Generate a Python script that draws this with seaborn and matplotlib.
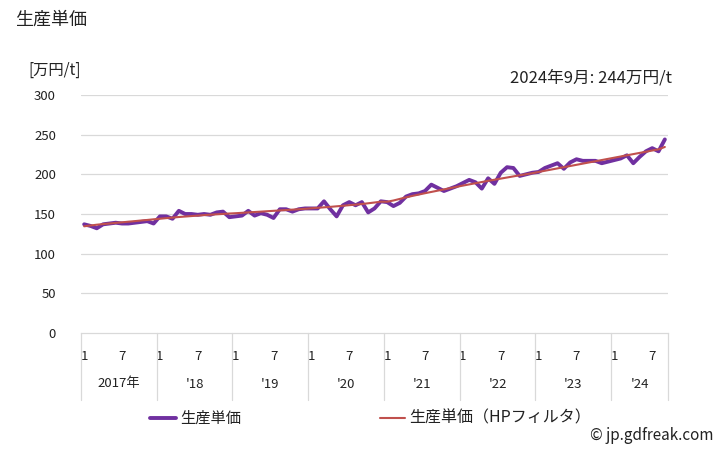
import numpy as np
import pandas as pd
import matplotlib
matplotlib.use("Agg")
import matplotlib.pyplot as plt
import matplotlib.transforms as mtransforms
import seaborn as sns

# ---- data ----
years = [2017, 2018, 2019, 2020, 2021, 2022, 2023, 2024]
year_labels = ["2017年", "'18", "'19", "'20", "'21", "'22", "'23", "'24"]
months_per_year = [12, 12, 12, 12, 12, 12, 12, 9]

price = [
    137, 135, 132, 137, 138, 139, 138, 138, 139, 140, 141, 138,   # 2017
    147, 147, 144, 154, 150, 150, 149, 150, 149, 152, 153, 146,   # 2018
    147, 148, 154, 148, 151, 149, 145, 156, 156, 153, 156, 157,   # 2019
    157, 157, 166, 156, 147, 161, 165, 161, 165, 152, 157, 166,   # 2020
    165, 160, 164, 172, 175, 176, 179, 187, 183, 179, 182, 185,   # 2021
    189, 193, 190, 182, 195, 188, 202, 209, 208, 198, 200, 202,   # 2022
    203, 208, 211, 214, 207, 215, 219, 217, 217, 217, 214, 216,   # 2023
    218, 220, 224, 214, 222, 229, 233, 229, 244,                  # 2024
]
hp_trend = [
    134.5, 135.5, 136.5, 137.3, 138.0, 138.8, 139.5, 140.3, 141.0, 141.8, 142.5, 143.3,
    144.0, 144.8, 145.5, 146.2, 146.8, 147.4, 148.0, 148.6, 149.1, 149.6, 150.1, 150.6,
    151.0, 151.5, 152.0, 152.5, 153.0, 153.5, 154.0, 154.5, 155.0, 155.5, 156.0, 156.5,
    157.2, 157.8, 158.4, 159.0, 159.7, 160.4, 161.1, 161.8, 162.6, 163.5, 164.5, 165.5,
    165.5, 167.0, 169.0, 171.0, 172.8, 174.5, 176.2, 177.8, 179.4, 181.0, 182.6, 184.2,
    185.8, 187.3, 188.8, 190.3, 191.8, 193.2, 194.6, 196.0, 197.4, 198.8, 200.1, 201.4,
    203.0, 204.5, 206.0, 207.5, 209.0, 210.5, 212.0, 213.5, 215.0, 216.5, 218.0, 219.5,
    221.0, 222.5, 224.0, 225.5, 227.0, 228.5, 230.0, 231.5, 234.5,
]
y_ticks = [0, 50, 100, 150, 200, 250, 300]

# ---- build table ----
month_num = []
for n in months_per_year:
    month_num += list(range(1, n + 1))
idx = list(range(len(price)))
df = pd.DataFrame({"idx": idx, "month": month_num, "price": price, "hp": hp_trend})

sns.set_theme(style="white")
plt.rcParams["font.family"] = ["Noto Sans CJK JP", "DejaVu Sans"]

fig = plt.figure(figsize=(7.28, 4.5), dpi=100)
ax = fig.add_axes([81 / 728, 1 - 333 / 450, (668 - 81) / 728, (333 - 95) / 450])

purple = "#7030A0"
red = "#C0504D"
grid_c = "#D9D9D9"

sns.lineplot(data=df, x="idx", y="price", ax=ax, color=purple, linewidth=2.8, zorder=3)
sns.lineplot(data=df, x="idx", y="hp", ax=ax, color=red, linewidth=1.5, zorder=4)

n = len(price)
ax.set_xlim(-0.5, n - 0.5)
ax.set_ylim(0, 300)
ax.set_yticks(y_ticks)
ax.set_yticklabels([str(v) for v in y_ticks], fontsize=9.5, color="#222222")
ax.tick_params(axis="y", length=0, pad=18)
for v in y_ticks[1:]:
    ax.axhline(v, color=grid_c, linewidth=0.9, zorder=1)
for s in ["left", "right", "top"]:
    ax.spines[s].set_visible(False)
ax.spines["bottom"].set_color(grid_c)
ax.spines["bottom"].set_linewidth(0.9)
ax.set_xlabel("")
ax.set_ylabel("")

# month ticks (1 and 7)
tick_pos = [i for i, m in zip(idx, month_num) if m in (1, 7)]
tick_lab = [str(m) for m in month_num if m in (1, 7)]
ax.set_xticks(tick_pos)
ax.set_xticklabels(tick_lab, fontsize=9.5, color="#222222")
ax.tick_params(axis="x", length=0, pad=12)

# year separators & labels
trans = mtransforms.blended_transform_factory(ax.transData, ax.transAxes)
bottom_frac = -67 / 238
start = 0
bounds = [-0.5]
for yl, nm in zip(year_labels, months_per_year):
    center = start + (nm - 1) / 2
    ax.text(center, -51 / 238, yl, transform=trans, ha="center", va="center",
            fontsize=9.5, color="#222222")
    start += nm
    bounds.append(start - 0.5)
for b in bounds:
    ax.plot([b, b], [0, bottom_frac], transform=trans, color=grid_c,
            linewidth=0.9, clip_on=False)

# texts
fig.text(15 / 728, 1 - 20 / 450, "生産単価", fontsize=13, ha="left", va="center", color="#222222")
fig.text(28 / 728, 1 - 70 / 450, "[万円/t]", fontsize=11, ha="left", va="center", color="#222222")
fig.text(672 / 728, 1 - 78 / 450, "2024年9月: 244万円/t", fontsize=12, ha="right",
         va="center", color="#222222")

# legend
ly = 1 - 418 / 450
fig.lines.append(plt.Line2D([150 / 728, 176 / 728], [ly, ly], transform=fig.transFigure,
                            color=purple, linewidth=2.8))
fig.text(180 / 728, ly, "生産単価", fontsize=11, ha="left", va="center", color="#222222")
fig.lines.append(plt.Line2D([380 / 728, 405 / 728], [ly, ly], transform=fig.transFigure,
                            color=red, linewidth=1.5))
fig.text(409 / 728, ly, "生産単価（HPフィルタ）", fontsize=11.5, ha="left", va="center",
         color="#222222")
fig.text(714 / 728, 1 - 436 / 450, "© jp.gdfreak.com", fontsize=11, ha="right",
         va="center", color="#222222")

fig.savefig("out.png", dpi=100, facecolor="white")
